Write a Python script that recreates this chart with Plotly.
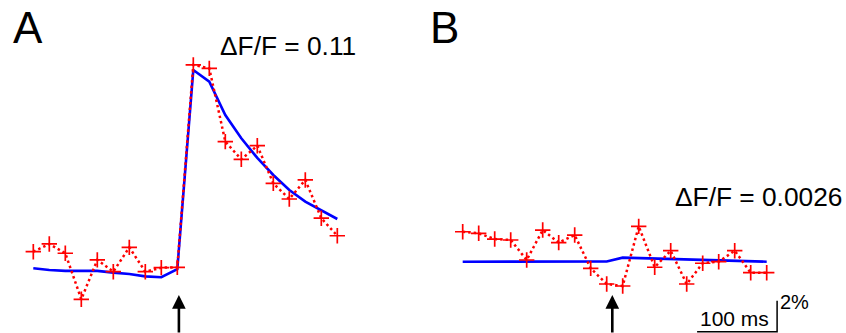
import plotly.graph_objects as go

# ---- data ----
# sample times (ms), 20 ms sampling interval
t_ms = [0, 20, 40, 60, 80, 100, 120, 140, 160, 180,
        200, 220, 240, 260, 280, 300, 320, 340, 360, 380]

# Panel A (dF/F, %): measured (red) and fit (blue)
a_measured = [1.18, 1.68, 1.08, -1.89, 0.65, -0.11, 1.46, -0.11, 0.15, 0.17,
              13.23, 13.01, 8.28, 7.14, 8.02, 5.59, 4.58, 5.81, 3.34, 2.21]
a_fit = [0.11, 0.00, -0.06, -0.05, -0.06, -0.17, -0.26, -0.41, -0.47, 0.06,
         12.90, 12.15, 10.00, 8.50, 7.23, 6.13, 5.16, 4.41, 3.87, 3.29]

# Panel B (dF/F, %)
b_measured = [1.95, 1.85, 1.48, 1.42, 0.13, 2.06, 1.25, 1.74, -0.41, -1.42,
              -1.55, 2.30, -0.34, 0.73, -1.42, -0.08, 0.02, 0.73, -0.69, -0.69]
b_fit = [0.02, 0.02, 0.02, 0.02, 0.02, 0.02, 0.02, 0.02, 0.02, 0.03,
         0.28, 0.25, 0.23, 0.20, 0.18, 0.15, 0.12, 0.10, 0.07, 0.02]

stim_A_ms = 182
stim_B_ms = 187

panel_labels = ["A", "B"]
amp_labels = ["\u0394F/F = 0.11", "\u0394F/F = 0.0026"]

# scale bar: 100 ms x 2 %
scale_x = [293, 393, 393]
scale_y = [-4.5, -4.5, -2.5]
scale_time_label = "100 ms"
scale_amp_label = "2%"

FONT = "Liberation Sans, Arial, sans-serif"
W, H = 846, 333

fig = go.Figure()

red_style = dict(mode="lines+markers",
                 line=dict(color="#ff0000", width=2.5, dash="2.5px,3px"),
                 marker=dict(symbol="cross-thin", size=11,
                             line=dict(color="#ff0000", width=1.7)))
blue_style = dict(mode="lines", line=dict(color="#0000ff", width=2.6))

fig.add_trace(go.Scatter(x=t_ms, y=a_fit, xaxis="x", yaxis="y", **blue_style))
fig.add_trace(go.Scatter(x=t_ms, y=a_measured, xaxis="x", yaxis="y", **red_style))
fig.add_trace(go.Scatter(x=t_ms, y=b_fit, xaxis="x2", yaxis="y2", **blue_style))
fig.add_trace(go.Scatter(x=t_ms, y=b_measured, xaxis="x2", yaxis="y2", **red_style))
fig.add_trace(go.Scatter(x=scale_x, y=scale_y, xaxis="x2", yaxis="y2", mode="lines",
                         line=dict(color="black", width=1.5)))

ax_common = dict(visible=False, showgrid=False, zeroline=False, fixedrange=True)
fig.update_layout(
    width=W, height=H,
    margin=dict(l=0, r=0, t=0, b=0),
    paper_bgcolor="white", plot_bgcolor="white",
    showlegend=False,
    xaxis=dict(domain=[0, 0.5], range=[-41.625, 487.125], **ax_common),
    yaxis=dict(domain=[0, 1], range=[-4.065, 17.419], anchor="x", **ax_common),
    xaxis2=dict(domain=[0.5, 1], range=[-49.625, 479.125], anchor="y2", **ax_common),
    yaxis2=dict(domain=[0, 1], range=[-4.581, 16.903], anchor="x2", **ax_common),
)

def py(pix):
    return 1 - pix / H

def px(pix):
    return pix / W

ann = []
# stimulus arrows
for xr, t in [("x", stim_A_ms), ("x2", stim_B_ms)]:
    ann.append(dict(x=t, y=py(295), xref=xr, yref="paper", text="", showarrow=True,
                    ax=0, ay=45, arrowhead=2, arrowsize=1.05, arrowwidth=2.6,
                    arrowcolor="black", standoff=0))
# panel letters
ann.append(dict(x=px(12), y=py(27), xref="paper", yref="paper", text=panel_labels[0],
                showarrow=False, xanchor="left", yanchor="middle",
                font=dict(family=FONT, size=44, color="black")))
ann.append(dict(x=px(429), y=py(27), xref="paper", yref="paper", text=panel_labels[1],
                showarrow=False, xanchor="left", yanchor="middle",
                font=dict(family=FONT, size=44, color="black")))
# amplitude labels
ann.append(dict(x=px(219), y=py(46), xref="paper", yref="paper", text=amp_labels[0],
                showarrow=False, xanchor="left", yanchor="middle",
                font=dict(family=FONT, size=26.3, color="black")))
ann.append(dict(x=px(674), y=py(197), xref="paper", yref="paper", text=amp_labels[1],
                showarrow=False, xanchor="left", yanchor="middle",
                font=dict(family=FONT, size=26.3, color="black")))
# scale bar labels
ann.append(dict(x=px(770), y=py(318), xref="paper", yref="paper", text=scale_time_label,
                showarrow=False, xanchor="right", yanchor="middle",
                font=dict(family=FONT, size=21, color="black")))
ann.append(dict(x=px(779), y=py(302), xref="paper", yref="paper", text=scale_amp_label,
                showarrow=False, xanchor="left", yanchor="middle",
                font=dict(family=FONT, size=20, color="black")))
for a in ann:
    a.setdefault("borderpad", 0)
fig.update_layout(annotations=ann)

fig.write_html("out.html",
               config={"displayModeBar": False, "staticPlot": True},
               post_script="document.body.style.margin='0';document.body.style.overflow='hidden';")
